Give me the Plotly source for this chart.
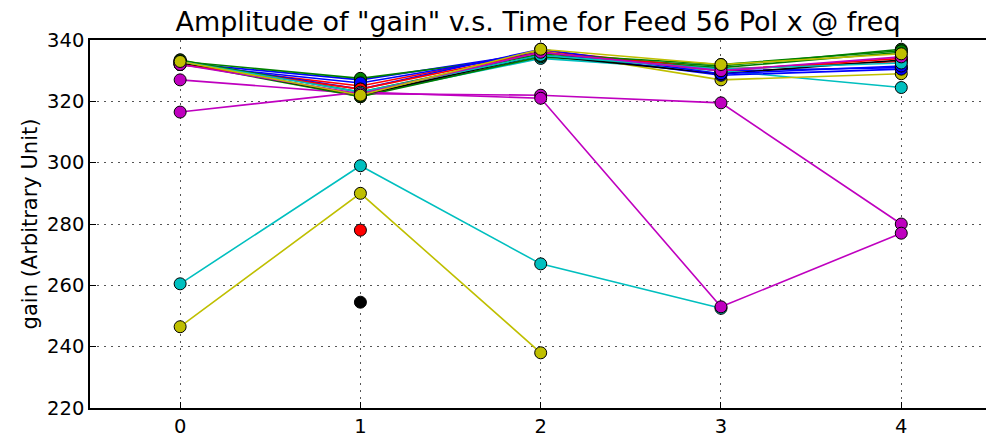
import plotly.graph_objects as go

times = [0, 1, 2, 3, 4]
nan = None

# gain per series, one list per feed/channel track
series_values = [
    [332.5, 327.0, 336.0, 330.0, 331.0],
    [333.0, 327.5, 335.0, 331.5, 337.0],
    [332.0, 325.0, 336.5, 330.5, 333.0],
    [333.0, 322.0, 334.0, 330.0, 324.5],
    [327.0, 322.5, 322.0, 319.5, 280.0],
    [333.5, 321.5, 336.5, 327.0, 329.0],
    [nan, 254.5, nan, nan, nan],
    [332.0, 326.0, 336.0, 328.5, 330.5],
    [332.5, 321.5, 334.5, 331.0, 336.0],
    [nan, 278.0, nan, nan, nan],
    [260.5, 299.0, 267.0, 252.5, nan],
    [316.5, 323.0, 321.0, 253.0, 277.0],
    [246.5, 290.0, 238.0, nan, nan],
    [332.5, 322.0, 335.0, 329.0, 333.5],
    [333.0, 324.0, 337.0, 329.0, 331.5],
    [333.5, 323.0, 335.5, 332.0, 336.5],
    [332.0, 324.0, 336.0, 330.0, 334.0],
    [333.0, 323.0, 335.0, 330.5, 332.5],
    [332.0, 322.5, 336.0, 330.0, 334.5],
    [333.0, 322.0, 337.0, 332.0, 335.5],
]

color_cycle = ["#0000ff", "#008000", "#ff0000", "#00bfbf", "#bf00bf", "#bfbf00", "#000000"]

y_ticks = [220, 240, 260, 280, 300, 320, 340]
x_ticks = [0, 1, 2, 3, 4]

fig = go.Figure()
for i, vals in enumerate(series_values):
    c = color_cycle[i % len(color_cycle)]
    fig.add_trace(go.Scatter(
        x=times, y=vals, mode="lines+markers",
        line=dict(color=c, width=1.6),
        marker=dict(color=c, size=12, line=dict(color="#000000", width=1)),
        showlegend=False, connectgaps=False,
    ))

font = "DejaVu Sans, Arial, sans-serif"
grid_style = dict(showgrid=True, gridcolor="#555555", griddash="1.5px,5.5px", gridwidth=1)
fig.update_layout(
    width=986, height=440,
    margin=dict(l=90, r=0, t=40, b=32),
    paper_bgcolor="white", plot_bgcolor="white",
    font=dict(family=font, size=20, color="black"),
    title=dict(text='Amplitude of "gain" v.s. Time for Feed 56 Pol x @ freq',
               xref="paper", x=0.5, xanchor="center", y=0.952, yanchor="middle",
               font=dict(size=27, family=font)),
)
fig.update_xaxes(
    range=[-0.5, 4.47], tickvals=x_ticks, ticktext=[str(t) for t in x_ticks],
    showline=True, linecolor="black", linewidth=1.5, mirror=True,
    ticks="inside", ticklen=6, tickcolor="black", zeroline=False,
    tickfont=dict(size=19.5), **grid_style,
)
fig.update_yaxes(
    range=[220, 340], tickvals=y_ticks, ticktext=[str(t) for t in y_ticks],
    showline=True, linecolor="black", linewidth=1.5, mirror=False,
    ticks="inside", ticklen=6, tickcolor="black", zeroline=False,
    title=dict(text="gain (Arbitrary Unit)", font=dict(size=21), standoff=4),
    tickfont=dict(size=19.5), **grid_style,
)

fig.write_html("out.html")
